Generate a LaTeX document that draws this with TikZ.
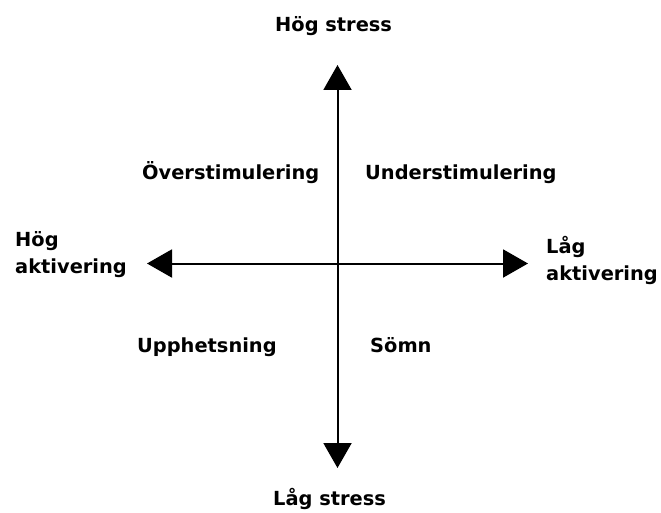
\documentclass[tikz,border=0pt]{standalone}
\usepackage{fontspec}
\setmainfont{DejaVu Sans}
\usetikzlibrary{arrows.meta}
\begin{document}
\begin{tikzpicture}[x=1pt,y=-1pt,
  lbl/.style={font=\fontsize{19.4}{27.5}\selectfont\bfseries, inner sep=0pt, anchor=base west},
  lbl2/.style={font=\fontsize{19.4}{27.5}\selectfont\bfseries, inner sep=0pt, anchor=north west, align=left},
  axis/.style={line width=2pt, {Triangle[length=25pt,width=28pt]}-{Triangle[length=25pt,width=28pt]}}]
\useasboundingbox (0,0) rectangle (661,513);
\coordinate (top) at (337.5,65);
\coordinate (bot) at (337.5,468);
\coordinate (lft) at (147,263.5);
\coordinate (rgt) at (528,263.5);
\draw[axis] (bot) -- (top);
\draw[axis] (lft) -- (rgt);
\node[lbl] (hs) at (275,32) {Hög stress};
\node[lbl] (ls) at (273,505) {Låg stress};
\node[lbl] (ov) at (142,180) {Överstimulering};
\node[lbl] (un) at (365,180) {Understimulering};
\node[lbl] (up) at (137,352) {Upphetsning};
\node[lbl] (so) at (370,352) {Sömn};
\node[lbl2] (ha) at (15,231) {Hög\\aktivering};
\node[lbl2] (la) at (546,236) {Låg\\aktivering};
\end{tikzpicture}
\end{document}
